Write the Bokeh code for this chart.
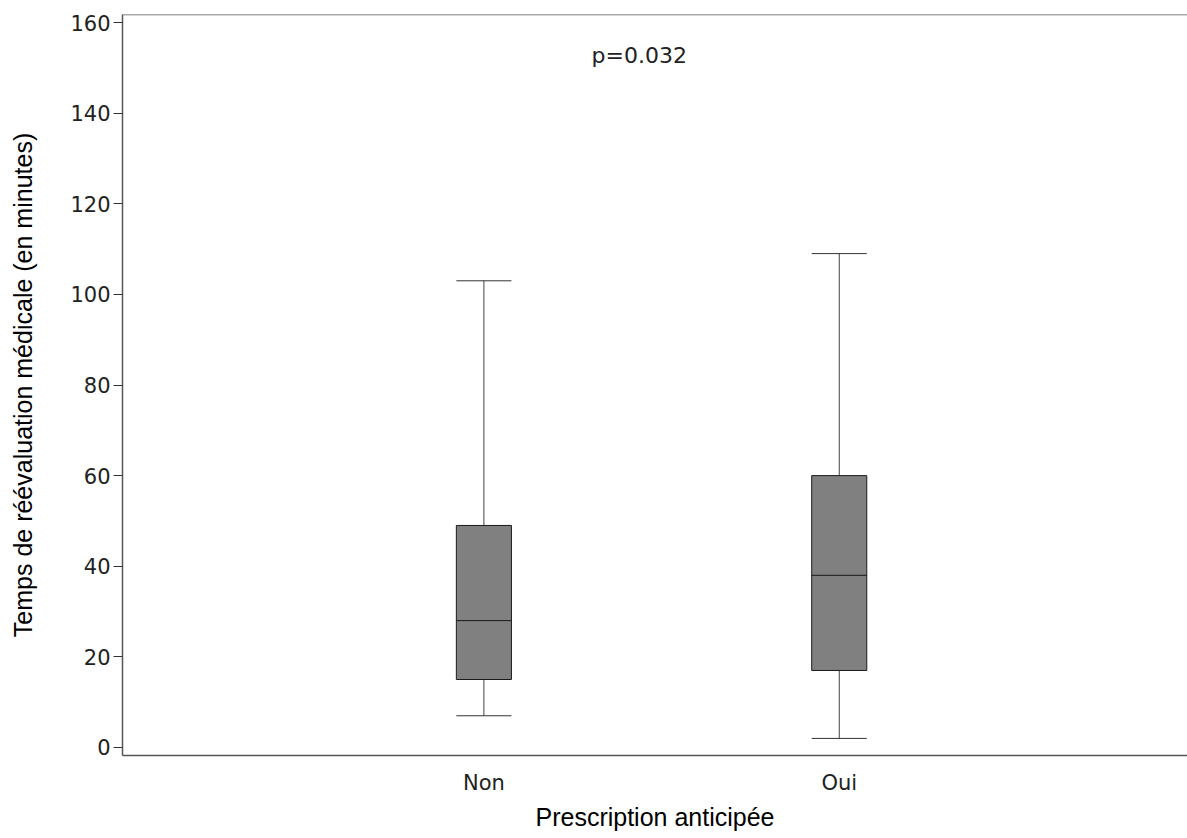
from bokeh.plotting import figure
from bokeh.models import Range1d, FixedTicker, Span
from bokeh.core.properties import value
from bokeh.embed import file_html
from bokeh.resources import INLINE

categories = ["Non", "Oui"]
lower_whisker = [7, 2]
q1 = [15, 17]
median = [28, 38]
q3 = [49, 60]
upper_whisker = [103, 109]
y_ticks = [0, 20, 40, 60, 80, 100, 120, 140, 160]
p_value_text = "p=0.032"

xs = [i + 1 for i in range(len(categories))]
box_w = 0.155

p = figure(width=1187, height=838, output_backend="svg", toolbar_location=None,
           x_range=Range1d(-0.017, 2.98), y_range=Range1d(-1.77, 161.77),
           min_border_left=122, min_border_top=14, min_border_right=0, min_border_bottom=83)
p.outline_line_color = None
p.grid.visible = False
p.background_fill_color = "white"
p.border_fill_color = "white"

# top frame line
p.add_layout(Span(location=161.77, dimension="width", line_color="#555555", line_width=1.5))

# whiskers
p.segment(x0=xs, y0=q3, x1=xs, y1=upper_whisker, line_color="#444444", line_width=1)
p.segment(x0=xs, y0=lower_whisker, x1=xs, y1=q1, line_color="#444444", line_width=1)
# caps
p.segment(x0=[x - box_w / 2 for x in xs], y0=upper_whisker, x1=[x + box_w / 2 for x in xs], y1=upper_whisker,
          line_color="#333333", line_width=1)
p.segment(x0=[x - box_w / 2 for x in xs], y0=lower_whisker, x1=[x + box_w / 2 for x in xs], y1=lower_whisker,
          line_color="#333333", line_width=1)
# boxes
p.vbar(x=xs, width=box_w, top=q3, bottom=q1, fill_color="#808080", line_color="#1a1a1a", line_width=1)
# medians
p.segment(x0=[x - box_w / 2 for x in xs], y0=median, x1=[x + box_w / 2 for x in xs], y1=median,
          line_color="#1a1a1a", line_width=1)

p.text(x=[1.437], y=[152.7], text=[p_value_text], text_align="center", text_baseline="middle",
       text_font=value("DejaVu Sans"), text_font_size="22px", text_color="#222222")

# axes
p.xaxis.ticker = FixedTicker(ticks=xs)
p.xaxis.major_label_overrides = {x: c for x, c in zip(xs, categories)}
p.xaxis.major_tick_line_color = None
p.xaxis.minor_tick_line_color = None
p.xaxis.axis_line_color = "#555555"
p.xaxis.axis_line_width = 1.5
p.xaxis.major_label_text_font = "DejaVu Sans"
p.xaxis.major_label_text_font_size = "21px"
p.xaxis.major_label_text_color = "#222222"
p.xaxis.major_label_standoff = 9
p.xaxis.axis_label = "Prescription anticipée"
p.xaxis.axis_label_text_font = "Liberation Sans"
p.xaxis.axis_label_text_font_style = "normal"
p.xaxis.axis_label_text_font_size = "25px"
p.xaxis.axis_label_text_color = "#000000"
p.xaxis.axis_label_standoff = 5

p.yaxis.ticker = FixedTicker(ticks=y_ticks)
p.yaxis.minor_tick_line_color = None
p.yaxis.major_tick_in = 0
p.yaxis.major_tick_out = 9
p.yaxis.major_tick_line_color = "#333333"
p.yaxis.axis_line_color = "#555555"
p.yaxis.axis_line_width = 1.5
p.yaxis.major_label_text_font = "DejaVu Sans"
p.yaxis.major_label_text_font_size = "21px"
p.yaxis.major_label_text_color = "#222222"
p.yaxis.major_label_standoff = 3
p.yaxis.axis_label = "Temps de réévaluation médicale (en minutes)"
p.yaxis.axis_label_text_font = "Liberation Sans"
p.yaxis.axis_label_text_font_style = "normal"
p.yaxis.axis_label_text_font_size = "25px"
p.yaxis.axis_label_text_color = "#000000"
p.yaxis.axis_label_standoff = 30

open("out.html", "w").write(file_html(p, INLINE))
